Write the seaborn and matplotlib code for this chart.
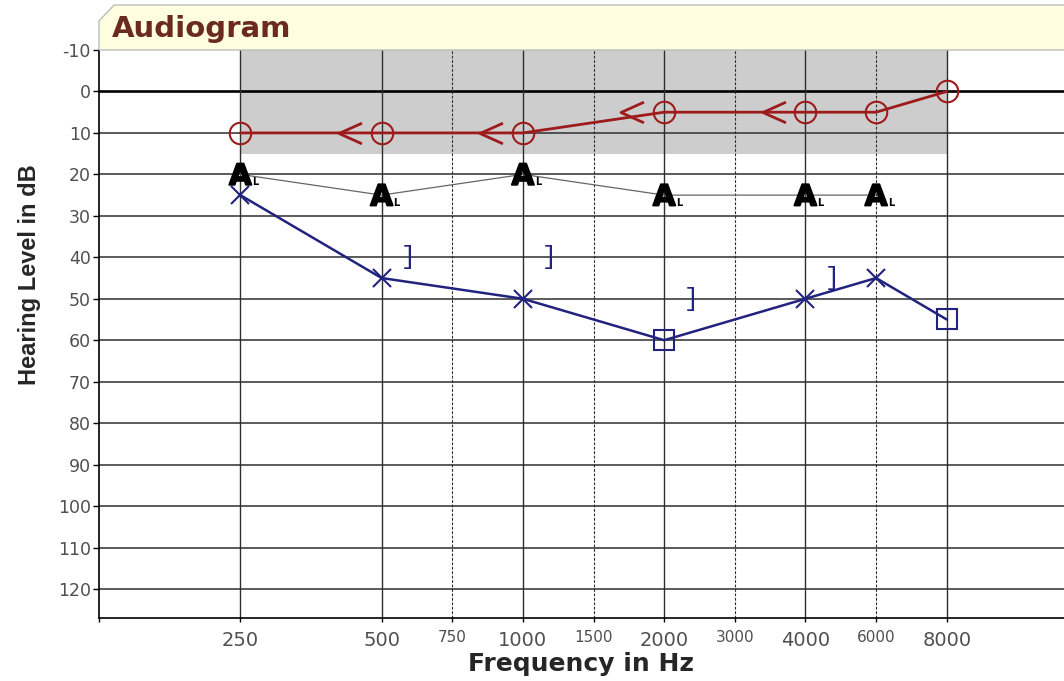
import numpy as np
import pandas as pd
import matplotlib.pyplot as plt
import matplotlib.patches as mpatches
import matplotlib.patheffects as pe
from matplotlib.path import Path
import seaborn as sns

sns.set_style("white")
plt.rcParams['font.family'] = ['DejaVu Sans']
plt.rcParams['axes.unicode_minus'] = False

# audiometric frequencies, placed on a half-octave axis
freq_labels = ["250", "500", "750", "1000", "1500", "2000", "3000", "4000", "6000", "8000"]
freq_pos = [0, 1, 1.5, 2, 2.5, 3, 3.5, 4, 4.5, 5]
octave_freqs = ["250", "500", "1000", "2000", "4000", "8000"]
pos = dict(zip(freq_labels, freq_pos))

db_ticks = list(range(-10, 130, 10))
normal_db = 15  # bottom of the grey "normal hearing" band

# right ear, air conduction (O)
right_freqs = ["250", "500", "1000", "2000", "4000", "6000", "8000"]
right_db = [10, 10, 10, 5, 5, 5, 0]
# "<" symbols on the right ear line
arrow_pos = [0.775, 1.775, 2.775, 3.775]
arrow_db = [10, 10, 5, 5]

# left ear, air conduction (X unmasked, square masked)
left_freqs = ["250", "500", "1000", "2000", "4000", "6000", "8000"]
left_db = [25, 45, 50, 60, 50, 45, 55]
left_sym = ["x", "x", "x", "s", "x", "x", "s"]

# left ear, masked bone conduction "]"
bone_freqs = ["500", "1000", "2000", "4000"]
bone_db = [40, 40, 50, 45]

# aided, left (A_L)
aided_freqs = ["250", "500", "1000", "2000", "4000", "6000"]
aided_db = [20, 25, 20, 25, 25, 25]

red = "#9E1B1B"
blue = "#22227F"
W, H = 1064, 681

fig = plt.figure(figsize=(W/100, H/100), dpi=100)
ax = fig.add_axes([99/W, 1-618/H, (W-99)/W, (618-50)/H])

# title banner
bx = [99, 99, 114, W+5, W+5]
by = [50, 21, 5, 5, 50]
banner = mpatches.Polygon([(x/W, 1-y/H) for x, y in zip(bx, by)], closed=True,
                          transform=fig.transFigure, facecolor="#FFFEE0",
                          edgecolor="#BDBDBD", lw=1, clip_on=False, zorder=0)
fig.patches.append(banner)
fig.text(112/W, 1-37/H, "Audiogram", fontsize=21, fontweight="bold",
         color="#6B2A1F", va="baseline", ha="left")

# normal band
ax.fill_between([pos["250"], pos["8000"]], -10, normal_db, color="#CDCDCD", lw=0, zorder=0.5)

# grid
for d in db_ticks[1:]:
    if d == 0:
        ax.axhline(d, color="black", lw=1.9, zorder=1)
    else:
        ax.axhline(d, color="#2E2E2E", lw=1.1, zorder=1)
for f, p in pos.items():
    if f in octave_freqs:
        ax.axvline(p, color="#2E2E2E", lw=1.0, zorder=1)
    else:
        ax.axvline(p, color="#2E2E2E", lw=0.8, ls=(0, (2.5, 1.5)), zorder=1)

# right ear
rx = [pos[f] for f in right_freqs]
sns.lineplot(x=rx, y=right_db, color=red, lw=2, ax=ax, legend=False, zorder=3)
ax.plot(rx, right_db, "o", ms=15.5, mfc="none", mec=red, mew=1.5, zorder=4)
chev = Path([(0.5, 0.45), (-0.5, 0), (0.5, -0.45)], [Path.MOVETO, Path.LINETO, Path.LINETO])
ax.plot(arrow_pos, arrow_db, ls="none", marker=chev, ms=16.5, mfc="none",
        mec=red, mew=2, zorder=4)

# aided left
ax_x = [pos[f] for f in aided_freqs]
sns.lineplot(x=ax_x, y=aided_db, color="#666666", lw=0.9, ax=ax, legend=False, zorder=2)
thick = [pe.withStroke(linewidth=1.3, foreground="black")]
for x, y in zip(ax_x, aided_db):
    ax.annotate("A", xy=(x, y), xytext=(0, -7.5), textcoords="offset points",
                ha="center", va="baseline", fontsize=21, fontweight="bold",
                color="black", zorder=5, path_effects=thick)
    ax.annotate("L", xy=(x, y), xytext=(8.6, -7.5), textcoords="offset points",
                ha="left", va="baseline", fontsize=7, fontweight="bold",
                color="black", zorder=5)

# left ear
lx = [pos[f] for f in left_freqs]
sns.lineplot(x=lx, y=left_db, color=blue, lw=1.8, ax=ax, legend=False, zorder=3)
for sym in ["x", "s"]:
    xs = [x for x, s in zip(lx, left_sym) if s == sym]
    ys = [y for y, s in zip(left_db, left_sym) if s == sym]
    ax.plot(xs, ys, sym, ms=13 if sym == "x" else 14.5, mfc="none", mec=blue,
            mew=1.5, zorder=4)

# bone conduction brackets
for f, d in zip(bone_freqs, bone_db):
    ax.text(pos[f] + 0.19, d, "]", fontsize=18, color=blue, ha="center", va="center",
            family=["Liberation Mono", "DejaVu Sans Mono"], zorder=4)

ax.set_xlim(-1, 5.83)
ax.set_ylim(127, -10)
ax.set_yticks(db_ticks)
ax.set_xticks([-1] + freq_pos)
ax.set_xticklabels([""] + freq_labels)
for lab, f in zip(ax.get_xticklabels()[1:], freq_labels):
    lab.set_fontsize(14 if f in octave_freqs else 11)
ax.tick_params(axis="y", direction="out", length=4, width=1, color="black",
               labelcolor="#505050", labelsize=12.5, pad=2, left=True)
ax.tick_params(axis="x", direction="out", length=3, width=1, color="black",
               labelcolor="#505050", pad=6, bottom=True)
sns.despine(ax=ax)
for s in ["left", "bottom"]:
    ax.spines[s].set_color("black")
    ax.spines[s].set_linewidth(1.2)
ax.set_xlabel("Frequency in Hz", fontsize=18, fontweight="bold", labelpad=2)
ax.set_ylabel("")
fig.text(30/W, 1-275/H, "Hearing Level in dB", rotation=90, ha="center", va="center",
         fontsize=17, fontweight="bold", family=["Liberation Sans", "DejaVu Sans"])

fig.savefig("out.png", dpi=100, facecolor="white")
